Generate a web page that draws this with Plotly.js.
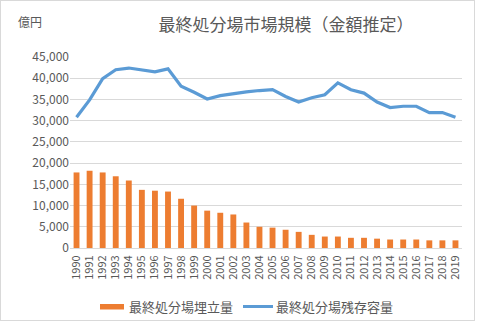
<!DOCTYPE html>
<html><head><meta charset="utf-8">
<script src="https://cdn.plot.ly/plotly-3.0.1.min.js"></script>
<style>
html,body{margin:0;padding:0;background:#fff;}
#wrap{position:relative;width:477px;height:325px;}
#chart{width:477px;height:325px;}
#frame{position:absolute;left:0;top:0;width:473px;height:319px;border:1px solid #d9d9d9;pointer-events:none;}
</style></head>
<body>
<div id="wrap"><div id="chart"></div><div id="frame"></div></div>
<script>
const years = ["1990","1991","1992","1993","1994","1995","1996","1997","1998","1999","2000","2001","2002","2003","2004","2005","2006","2007","2008","2009","2010","2011","2012","2013","2014","2015","2016","2017","2018","2019"];
const landfillAmount = [17800,18200,17800,16900,15900,13700,13500,13300,11600,10000,8800,8300,7900,6000,5000,4800,4300,3800,3100,2700,2700,2400,2400,2200,2000,2000,2000,1800,1800,1800];
const remainingCapacity = [30800,34900,39900,42000,42400,42000,41500,42200,38100,36700,35100,35900,36400,36800,37100,37300,35700,34400,35400,36100,38900,37300,36500,34400,33100,33400,33400,31900,31900,30800];
const seriesNames = ["最終処分場埋立量","最終処分場残存容量"];
const titleText = "最終処分場市場規模（金額推定）";
const unitText = "億円";

const W=477,H=325,L=70,R=15,T=57,B=77;
const pw=W-L-R, ph=H-T-B;
const px=x=>(x-L)/pw, py=y=>(H-B-y)/ph;
const font="'Noto Sans CJK JP', 'Noto Sans', sans-serif";
const grey="#595959";

const data=[
 {type:"bar",x:years,y:landfillAmount,name:seriesNames[0],marker:{color:"#ED7D31"},hoverinfo:"x+y"},
 {type:"scatter",mode:"lines",x:years,y:remainingCapacity,name:seriesNames[1],line:{color:"#5B9BD5",width:3.2}}
];
const layout={
 width:W,height:H,margin:{l:L,r:R,t:T,b:B},
 paper_bgcolor:"#fff",plot_bgcolor:"#fff",
 showlegend:false,bargap:0.55,
 font:{family:font,color:grey},
 title:{text:titleText,font:{size:17,color:grey,family:font},xref:"container",yref:"container",x:286/W,xanchor:"center",y:1-25/H,yanchor:"middle"},
 xaxis:{type:"category",tickangle:-90,tickfont:{size:11,color:grey},ticklabelstandoff:2,showgrid:false,showline:true,linecolor:"#d9d9d9",linewidth:1,ticks:"",zeroline:false,fixedrange:true},
 yaxis:{range:[0,45000],dtick:5000,tickformat:",d",tickfont:{size:12,color:grey},showgrid:true,gridcolor:"#d9d9d9",gridwidth:1,zeroline:false,showline:false,ticks:"",ticklen:0,fixedrange:true},
 shapes:[
  {type:"rect",xref:"paper",yref:"paper",x0:px(100),x1:px(124),y0:py(309.5),y1:py(304),fillcolor:"#ED7D31",line:{width:0}},
  {type:"line",xref:"paper",yref:"paper",x0:px(243),x1:px(273),y0:py(306.5),y1:py(306.5),line:{color:"#5B9BD5",width:3}}
 ],
 annotations:[
  {text:unitText,xref:"paper",yref:"paper",x:px(16),y:py(22),xanchor:"left",yanchor:"middle",showarrow:false,font:{size:12,color:grey}},
  {text:seriesNames[0],xref:"paper",yref:"paper",x:px(127),y:py(306),xanchor:"left",yanchor:"middle",showarrow:false,font:{size:13,color:grey}},
  {text:seriesNames[1],xref:"paper",yref:"paper",x:px(274),y:py(306),xanchor:"left",yanchor:"middle",showarrow:false,font:{size:13,color:grey}}
 ]
};
Plotly.newPlot("chart",data,layout,{displayModeBar:false,staticPlot:true});
</script>
</body></html>
